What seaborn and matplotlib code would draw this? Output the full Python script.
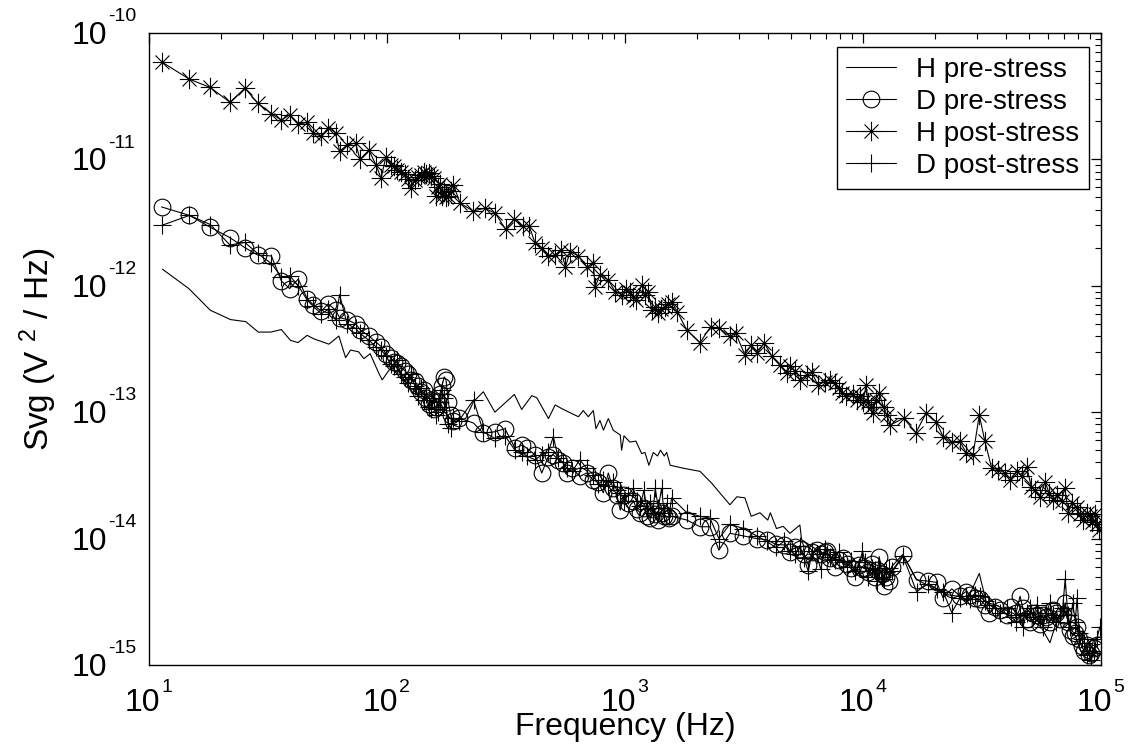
import matplotlib
matplotlib.use("Agg")
import matplotlib.pyplot as plt
from matplotlib.path import Path
import numpy as np
import seaborn as sns

# ---------------- data ----------------
# H pre-stress (line only)
freq_hpre = [11.4, 14.7, 18.1, 22, 25.5, 28.8, 32.5, 36, 39.3, 42.3,
             46.2, 49.3, 57, 62.8, 67, 70.3, 76, 80, 85, 92.4,
             95.5, 102, 109, 116, 128, 136, 145, 155, 165, 176,
             188, 214, 231, 254, 284, 343, 368, 406, 426, 477,
             509, 551, 637, 668, 701, 736, 755, 785, 812, 851,
             892, 955, 968, 990, 1048, 1111, 1175, 1213, 1260, 1315,
             1370, 1410, 1462, 1497, 1549, 1760, 2067, 2310, 2760, 2950,
             3190, 3390, 3690, 3980, 4080, 4330, 4620, 4930, 5430, 5520,
             6500, 7500, 8500, 9500, 10500, 11500, 12500, 13300, 14800, 16700,
             18500, 20500, 22500, 25000, 27500, 30800, 33000, 36000, 40000, 44000,
             48000, 52000, 56000, 61000, 65000, 70000, 74000, 78000, 82000, 86000,
             90000, 95000, 99000]
h_pre = [1.35e-12, 9.5e-13, 6.4e-13, 5.4e-13, 5.2e-13, 4.3e-13, 4.3e-13, 4.5e-13, 3.7e-13, 3.55e-13,
         4.05e-13, 3.8e-13, 3.45e-13, 4.0e-13, 2.7e-13, 3.1e-13, 3.0e-13, 2.65e-13, 2.9e-13, 2.03e-13,
         1.8e-13, 2.15e-13, 2.3e-13, 1.9e-13, 1.4e-13, 1.6e-13, 1.35e-13, 1.4e-13, 1.1e-13, 9.9e-14,
         8.6e-14, 8.9e-14, 1.21e-13, 1.45e-13, 1.0e-13, 1.38e-13, 1.05e-13, 1.35e-13, 1.3e-13, 8.9e-14,
         1.14e-13, 1.05e-13, 9.2e-14, 1.03e-13, 9.2e-14, 1.03e-13, 7.4e-14, 8.6e-14, 7.2e-14, 8.9e-14,
         7.2e-14, 6.6e-14, 5.0e-14, 6.5e-14, 5.8e-14, 5.9e-14, 4.7e-14, 4.8e-14, 3.8e-14, 4.8e-14,
         4.5e-14, 5.0e-14, 4.5e-14, 4.8e-14, 3.8e-14, 3.6e-14, 3.4e-14, 2.75e-14, 1.85e-14, 2.14e-14,
         2.1e-14, 1.5e-14, 1.6e-14, 1.4e-14, 1.6e-14, 1.2e-14, 1.25e-14, 1.1e-14, 1.28e-14, 9.8e-15,
         8.0e-15, 7.0e-15, 6.5e-15, 5.5e-15, 5.5e-15, 5.0e-15, 4.8e-15, 5.5e-15, 7.3e-15, 4.8e-15,
         4.3e-15, 4.0e-15, 3.6e-15, 3.5e-15, 3.3e-15, 5.3e-15, 3.1e-15, 3.0e-15, 2.7e-15, 2.5e-15,
         2.5e-15, 2.2e-15, 2.0e-15, 1.5e-15, 2.2e-15, 2.8e-15, 2.0e-15, 1.7e-15, 1.3e-15, 1.15e-15,
         1.1e-15, 1.3e-15, 1.2e-15]

# D devices (pre / post stress share the frequency grid), one list per band
freq_d_band1 = [11.3, 14.8, 18.1, 21.9, 25.3, 28.6, 32.7, 36, 39, 42.4,
                46.2, 48.9, 53, 56.7, 60.8, 63.2, 68, 73.8, 77, 84,
                89.7, 94.5, 99, 103.6, 107, 110, 114, 119.6, 123, 126,
                131, 135, 139, 143, 146, 150, 153, 157, 160, 164,
                167, 170, 174, 177, 181, 185, 190]
d_pre_band1 = [4.2e-12, 3.6e-12, 2.9e-12, 2.4e-12, 2.0e-12, 1.75e-12, 1.72e-12, 1.09e-12, 9.5e-13, 1.13e-12,
               7.9e-13, 7.1e-13, 6.3e-13, 7.2e-13, 6.4e-13, 5.6e-13, 5.4e-13, 5.0e-13, 4.5e-13, 4.0e-13,
               3.6e-13, 3.3e-13, 2.9e-13, 2.7e-13, 2.5e-13, 2.45e-13, 2.3e-13, 2.1e-13, 2.0e-13, 1.8e-13,
               1.75e-13, 1.6e-13, 1.45e-13, 1.5e-13, 1.3e-13, 1.15e-13, 1.25e-13, 1.05e-13, 1.1e-13, 1.2e-13,
               1.4e-13, 1.6e-13, 1.9e-13, 1.8e-13, 1.2e-13, 9.5e-14, 8.5e-14]
d_post_band1 = [3.0e-12, 3.6e-12, 3.05e-12, 2.1e-12, 2.2e-12, 1.8e-12, 1.5e-12, 1.17e-12, 1.2e-12, 1.0e-12,
                7.7e-13, 6.9e-13, 6.0e-13, 6.5e-13, 5.4e-13, 8.5e-13, 5.0e-13, 4.6e-13, 4.2e-13, 3.7e-13,
                3.3e-13, 3.1e-13, 2.8e-13, 2.4e-13, 2.3e-13, 2.6e-13, 2.0e-13, 1.9e-13, 1.7e-13, 2.0e-13,
                1.6e-13, 1.35e-13, 1.55e-13, 1.25e-13, 1.4e-13, 1.1e-13, 1.05e-13, 1.3e-13, 9.5e-14, 1.0e-13,
                1.2e-13, 1.5e-13, 1.3e-13, 1.1e-13, 8.0e-14, 7.5e-14, 9.0e-14]

freq_d_band2 = [200, 231, 254, 284, 313, 345, 370, 386, 419, 447,
                475, 500, 525, 550, 569, 600, 646, 690, 736, 770,
                811, 851, 890, 925, 955, 990, 1030, 1085, 1120, 1160,
                1200, 1240, 1274, 1310, 1340, 1380, 1425, 1460, 1497, 1530,
                1570]
d_pre_band2 = [9.0e-14, 8.2e-14, 6.8e-14, 7.0e-14, 7.4e-14, 5.2e-14, 5.5e-14, 5.2e-14, 4.6e-14, 3.3e-14,
               4.4e-14, 4.6e-14, 4.2e-14, 3.95e-14, 3.3e-14, 3.6e-14, 3.1e-14, 3.3e-14, 2.9e-14, 2.8e-14,
               2.3e-14, 3.3e-14, 2.5e-14, 2.2e-14, 1.68e-14, 2.2e-14, 1.9e-14, 2.0e-14, 1.7e-14, 1.6e-14,
               1.75e-14, 1.5e-14, 1.45e-14, 1.7e-14, 1.55e-14, 1.4e-14, 1.6e-14, 1.5e-14, 1.5e-14, 1.45e-14,
               1.5e-14]
d_post_band2 = [8.5e-14, 1.25e-13, 7.0e-14, 6.2e-14, 6.5e-14, 5.0e-14, 4.8e-14, 4.5e-14, 4.2e-14, 4.6e-14,
                4.8e-14, 6.4e-14, 4.3e-14, 4.0e-14, 3.6e-14, 3.4e-14, 4.2e-14, 3.6e-14, 3.2e-14, 2.7e-14,
                2.9e-14, 2.6e-14, 2.8e-14, 2.4e-14, 2.3e-14, 2.0e-14, 2.2e-14, 2.5e-14, 2.0e-14, 1.8e-14,
                2.4e-14, 1.7e-14, 1.9e-14, 1.6e-14, 2.5e-14, 1.75e-14, 2.5e-14, 1.6e-14, 1.9e-14, 1.5e-14,
                2.1e-14]

freq_d_band3 = [1820, 2067, 2275, 2480, 2760, 3140, 3570, 3935, 4300, 4650,
                4930, 5200, 5430, 5650, 5890, 6130, 6380, 6650, 6900, 7030,
                7300, 7620, 7900, 8260, 8600, 8900, 9250, 9600, 9950, 10200,
                10500, 10900, 11200, 11500, 11700, 12000, 12200, 12500, 12800, 13200]
d_pre_band3 = [1.4e-14, 1.24e-14, 1.24e-14, 8.1e-15, 1.1e-14, 1.05e-14, 1.0e-14, 9.8e-15, 9.0e-15, 8.9e-15,
               7.9e-15, 8.5e-15, 8.3e-15, 7.5e-15, 6.2e-15, 7.8e-15, 8.1e-15, 7.6e-15, 7.8e-15, 8.0e-15,
               7.0e-15, 6.0e-15, 6.8e-15, 7.0e-15, 6.3e-15, 5.8e-15, 5.0e-15, 6.2e-15, 5.9e-15, 5.8e-15,
               5.4e-15, 6.3e-15, 5.0e-15, 5.6e-15, 7.2e-15, 5.2e-15, 4.2e-15, 5.0e-15, 4.6e-15, 6.0e-15]
d_post_band3 = [1.6e-14, 1.5e-14, 1.45e-14, 1.0e-14, 1.3e-14, 1.2e-14, 1.05e-14, 9.5e-15, 8.5e-15, 9.5e-15,
                8.0e-15, 7.5e-15, 8.8e-15, 7.0e-15, 5.5e-15, 8.0e-15, 7.5e-15, 5.7e-15, 8.3e-15, 7.6e-15,
                7.2e-15, 6.8e-15, 7.9e-15, 6.5e-15, 6.0e-15, 6.6e-15, 5.5e-15, 6.0e-15, 8.0e-15, 6.5e-15,
                5.0e-15, 5.8e-15, 5.6e-15, 4.6e-15, 5.8e-15, 5.0e-15, 4.8e-15, 5.4e-15, 5.8e-15, 5.5e-15]

freq_d_band4 = [14700, 16800, 18800, 20400, 21700, 23600, 25600, 27000, 28200, 29500,
                30900, 32500, 33900, 35800, 37600, 40200, 42000, 44000, 45700, 47000,
                48700, 50500, 52000, 53700, 55500, 57000, 59000, 61000, 63000, 65000,
                67000, 69000, 70700, 72500, 74200, 76000, 78000, 79300, 81000, 82900,
                85000, 87000, 89000, 91200, 93000, 95900, 98900]
d_pre_band4 = [7.5e-15, 4.7e-15, 4.6e-15, 4.5e-15, 3.4e-15, 4.0e-15, 3.5e-15, 3.8e-15, 3.6e-15, 3.4e-15,
               3.3e-15, 3.0e-15, 2.6e-15, 2.9e-15, 2.7e-15, 2.5e-15, 2.9e-15, 2.6e-15, 3.5e-15, 2.8e-15,
               2.3e-15, 2.2e-15, 2.6e-15, 2.5e-15, 2.1e-15, 2.5e-15, 2.4e-15, 2.2e-15, 2.7e-15, 2.6e-15,
               2.3e-15, 2.5e-15, 3.1e-15, 2.2e-15, 1.9e-15, 1.7e-15, 1.8e-15, 2.0e-15, 1.6e-15, 1.4e-15,
               1.3e-15, 1.45e-15, 1.2e-15, 1.25e-15, 1.35e-15, 1.45e-15, 1.45e-15]
d_post_band4 = [7.3e-15, 3.8e-15, 4.4e-15, 4.0e-15, 3.8e-15, 2.6e-15, 3.4e-15, 3.5e-15, 3.3e-15, 3.6e-15,
                3.5e-15, 3.2e-15, 3.0e-15, 2.8e-15, 2.6e-15, 2.8e-15, 2.4e-15, 2.2e-15, 2.5e-15, 2.0e-15,
                2.6e-15, 2.8e-15, 2.4e-15, 3.0e-15, 2.3e-15, 2.0e-15, 2.6e-15, 3.1e-15, 2.5e-15, 2.2e-15,
                2.5e-15, 2.8e-15, 4.8e-15, 2.5e-15, 2.0e-15, 3.1e-15, 2.2e-15, 3.4e-15, 1.8e-15, 1.6e-15,
                1.5e-15, 1.2e-15, 1.3e-15, 1.1e-15, 1.3e-15, 1.6e-15, 2.0e-15]

# H post-stress (asterisks)
freq_hpost = [11.3, 14.8, 18.1, 21.9, 25.3, 28.6, 32.7, 36, 39, 42.4,
              46.2, 48.9, 53, 56.7, 60.8, 63.2, 68, 73.8, 77, 84,
              89.7, 94.5, 99, 103.6, 107, 110, 114, 119.6, 123, 126,
              131, 135, 139, 143, 146, 150, 153, 157, 160, 164,
              167, 170, 174, 177, 181, 185, 190, 203, 230, 257,
              285, 315, 342, 372, 396, 419, 447, 477, 509, 537,
              562, 588, 637, 692, 737, 748, 785, 851, 908, 968,
              1010, 1048, 1080, 1117, 1175, 1210, 1253, 1295, 1340, 1380,
              1420, 1472, 1520, 1570, 1660, 1817, 2067, 2290, 2490, 2760,
              2920, 3190, 3390, 3600, 3840, 4130, 4470, 4780, 4930, 5200,
              5430, 5790, 6080, 6460, 6920, 7250, 7600, 7900, 8130, 8520,
              9100, 9400, 9710, 10000, 10300, 10500, 10800, 11000, 11300, 11700,
              12200, 12600, 13000, 14800, 16700, 18400, 20300, 21700, 23600, 25500,
              27200, 29000, 30800, 32500, 34700, 37000, 39500, 41400, 44200, 46500,
              48700, 51000, 53000, 55400, 58200, 60500, 63000, 65500, 68300, 70500,
              72800, 75500, 78900, 81500, 84100, 87000, 89500, 92000, 94400, 96500,
              98400]
h_post = [5.9e-11, 4.3e-11, 3.7e-11, 2.83e-11, 3.65e-11, 2.79e-11, 2.3e-11, 2.04e-11, 2.25e-11, 1.9e-11,
          1.96e-11, 1.62e-11, 1.52e-11, 1.78e-11, 1.62e-11, 1.16e-11, 1.29e-11, 1.35e-11, 1.0e-11, 1.18e-11,
          9.1e-12, 7.1e-12, 1.05e-11, 9.1e-12, 8.8e-12, 8.3e-12, 8.0e-12, 7.6e-12, 7.0e-12, 5.9e-12,
          6.9e-12, 7.3e-12, 7.5e-12, 8.0e-12, 7.6e-12, 7.8e-12, 7.4e-12, 7.1e-12, 5.1e-12, 6.0e-12,
          6.4e-12, 5.1e-12, 5.5e-12, 5.0e-12, 5.1e-12, 5.6e-12, 6.3e-12, 4.5e-12, 3.9e-12, 4.1e-12,
          3.75e-12, 2.8e-12, 3.36e-12, 2.95e-12, 2.97e-12, 2.17e-12, 1.99e-12, 1.72e-12, 1.75e-12, 1.92e-12,
          1.41e-12, 1.86e-12, 1.72e-12, 1.41e-12, 1.5e-12, 9.7e-13, 1.22e-12, 1.11e-12, 9.0e-13, 8.5e-13,
          9.5e-13, 9.0e-13, 8.2e-13, 7.7e-13, 1.02e-12, 8.4e-13, 9.0e-13, 6.4e-13, 6.8e-13, 6.05e-13,
          6.5e-13, 6.8e-13, 7.2e-13, 7.5e-13, 6.2e-13, 4.47e-13, 3.55e-13, 4.74e-13, 4.6e-13, 3.98e-13,
          4.2e-13, 2.84e-13, 3.4e-13, 2.92e-13, 3.55e-13, 2.79e-13, 2.36e-13, 2.03e-13, 2.3e-13, 2.1e-13,
          1.8e-13, 1.95e-13, 2.08e-13, 1.64e-13, 1.74e-13, 1.8e-13, 1.71e-13, 1.55e-13, 1.41e-13, 1.35e-13,
          1.38e-13, 1.25e-13, 1.35e-13, 1.2e-13, 1.64e-13, 1.21e-13, 1.1e-13, 9.8e-14, 1.25e-13, 1.41e-13,
          1.1e-13, 9.5e-14, 7.9e-14, 8.95e-14, 6.9e-14, 9.8e-14, 8.4e-14, 6.4e-14, 5.76e-14, 5.9e-14,
          4.73e-14, 4.6e-14, 9.5e-14, 5.9e-14, 3.63e-14, 3.5e-14, 3.3e-14, 2.9e-14, 3.4e-14, 3.1e-14,
          3.7e-14, 2.56e-14, 2.4e-14, 2.14e-14, 2.8e-14, 2.3e-14, 2.02e-14, 2.2e-14, 2.0e-14, 2.5e-14,
          1.6e-14, 1.9e-14, 1.78e-14, 1.55e-14, 1.4e-14, 1.6e-14, 1.5e-14, 1.35e-14, 1.55e-14, 1.3e-14,
          1.17e-14]

series_labels = ["H pre-stress", "D pre-stress", "H post-stress", "D post-stress"]
x_ticks = [1e1, 1e2, 1e3, 1e4, 1e5]
y_ticks = [1e-15, 1e-14, 1e-13, 1e-12, 1e-11, 1e-10]

freq_d = freq_d_band1 + freq_d_band2 + freq_d_band3 + freq_d_band4
d_pre = d_pre_band1 + d_pre_band2 + d_pre_band3 + d_pre_band4
d_post = d_post_band1 + d_post_band2 + d_post_band3 + d_post_band4

# ---------------- style ----------------
sns.set_theme(style="white")
plt.rcParams.update({
    "font.family": ["Liberation Sans", "DejaVu Sans"],
    "mathtext.fontset": "custom",
    "mathtext.rm": "Liberation Sans",
    "mathtext.it": "Liberation Sans:italic",
    "mathtext.bf": "Liberation Sans:bold",
    "mathtext.default": "regular",
    "axes.unicode_minus": False,
    "axes.edgecolor": "black",
    "axes.linewidth": 1.0,
    "xtick.color": "black",
    "ytick.color": "black",
    "text.color": "black",
    "axes.labelcolor": "black",
})

asterisk = Path(
    [(0, -1), (0, 1), (-1, 0), (1, 0), (-0.72, -0.72), (0.72, 0.72), (-0.72, 0.72), (0.72, -0.72)],
    [Path.MOVETO, Path.LINETO] * 4,
)

fig = plt.figure(figsize=(11.38, 7.48), dpi=100)
ax = fig.add_axes([0.1309, 0.111, 0.8366, 0.845])

common = dict(ax=ax, color="black", linewidth=0.8, sort=False, estimator=None)
sns.lineplot(x=freq_hpre, y=h_pre, label=series_labels[0], **common)
sns.lineplot(x=freq_d, y=d_pre, label=series_labels[1], marker="o", markersize=12,
             markerfacecolor="none", markeredgecolor="black", markeredgewidth=0.8, **common)
sns.lineplot(x=freq_hpost, y=h_post, label=series_labels[2], marker=asterisk, markersize=14,
             markerfacecolor="none", markeredgecolor="black", markeredgewidth=0.8, **common)
sns.lineplot(x=freq_d, y=d_post, label=series_labels[3], marker="+", markersize=13,
             markerfacecolor="none", markeredgecolor="black", markeredgewidth=0.8, **common)

ax.set_xscale("log")
ax.set_yscale("log")
ax.set_xlim(x_ticks[0], x_ticks[-1])
ax.set_ylim(y_ticks[0], y_ticks[-1])
ax.set_xticks(x_ticks)
ax.set_yticks(y_ticks)

ax.tick_params(which="both", direction="in", top=True, right=True, color="black",
               labelbottom=False, labelleft=False)
ax.tick_params(which="major", length=7, width=0.9)
ax.tick_params(which="minor", length=4, width=0.8)

# tick labels in the "10" + raised exponent style of the reference
base_fs, exp_fs = 23, 14
for xt in x_ticks:
    e = int(round(np.log10(xt)))
    ax.annotate("10", xy=(xt, 0), xycoords=("data", "axes fraction"),
                xytext=(8, -33), textcoords="offset points",
                ha="right", va="baseline", fontsize=base_fs, annotation_clip=False)
    ax.annotate(str(e), xy=(xt, 0), xycoords=("data", "axes fraction"),
                xytext=(9, -19.5), textcoords="offset points",
                ha="left", va="baseline", fontsize=exp_fs, annotation_clip=False)
for yt in y_ticks:
    e = int(round(np.log10(yt)))
    ax.annotate("10", xy=(0, yt), xycoords=("axes fraction", "data"),
                xytext=(-30, -8), textcoords="offset points",
                ha="right", va="baseline", fontsize=base_fs, annotation_clip=False)
    ax.annotate(str(e), xy=(0, yt), xycoords=("axes fraction", "data"),
                xytext=(-29.5, 8.5), textcoords="offset points",
                ha="left", va="baseline", fontsize=exp_fs, annotation_clip=False)

ax.set_xlabel("Frequency (Hz)", fontsize=23)
ax.xaxis.set_label_coords(0.5, -0.074)
ax.set_ylabel(r"Svg (V $^{2}$ / Hz)", fontsize=24)
ax.yaxis.set_label_coords(-0.094, 0.5)

leg = ax.legend(loc="upper right", bbox_to_anchor=(0.987, 0.978), fontsize=20,
                frameon=True, fancybox=False, edgecolor="black", framealpha=1,
                borderaxespad=0, handlelength=1.8, labelspacing=0.22,
                borderpad=0.35, handletextpad=0.7)
leg.get_frame().set_linewidth(1.0)

fig.savefig("out.png", dpi=100)
